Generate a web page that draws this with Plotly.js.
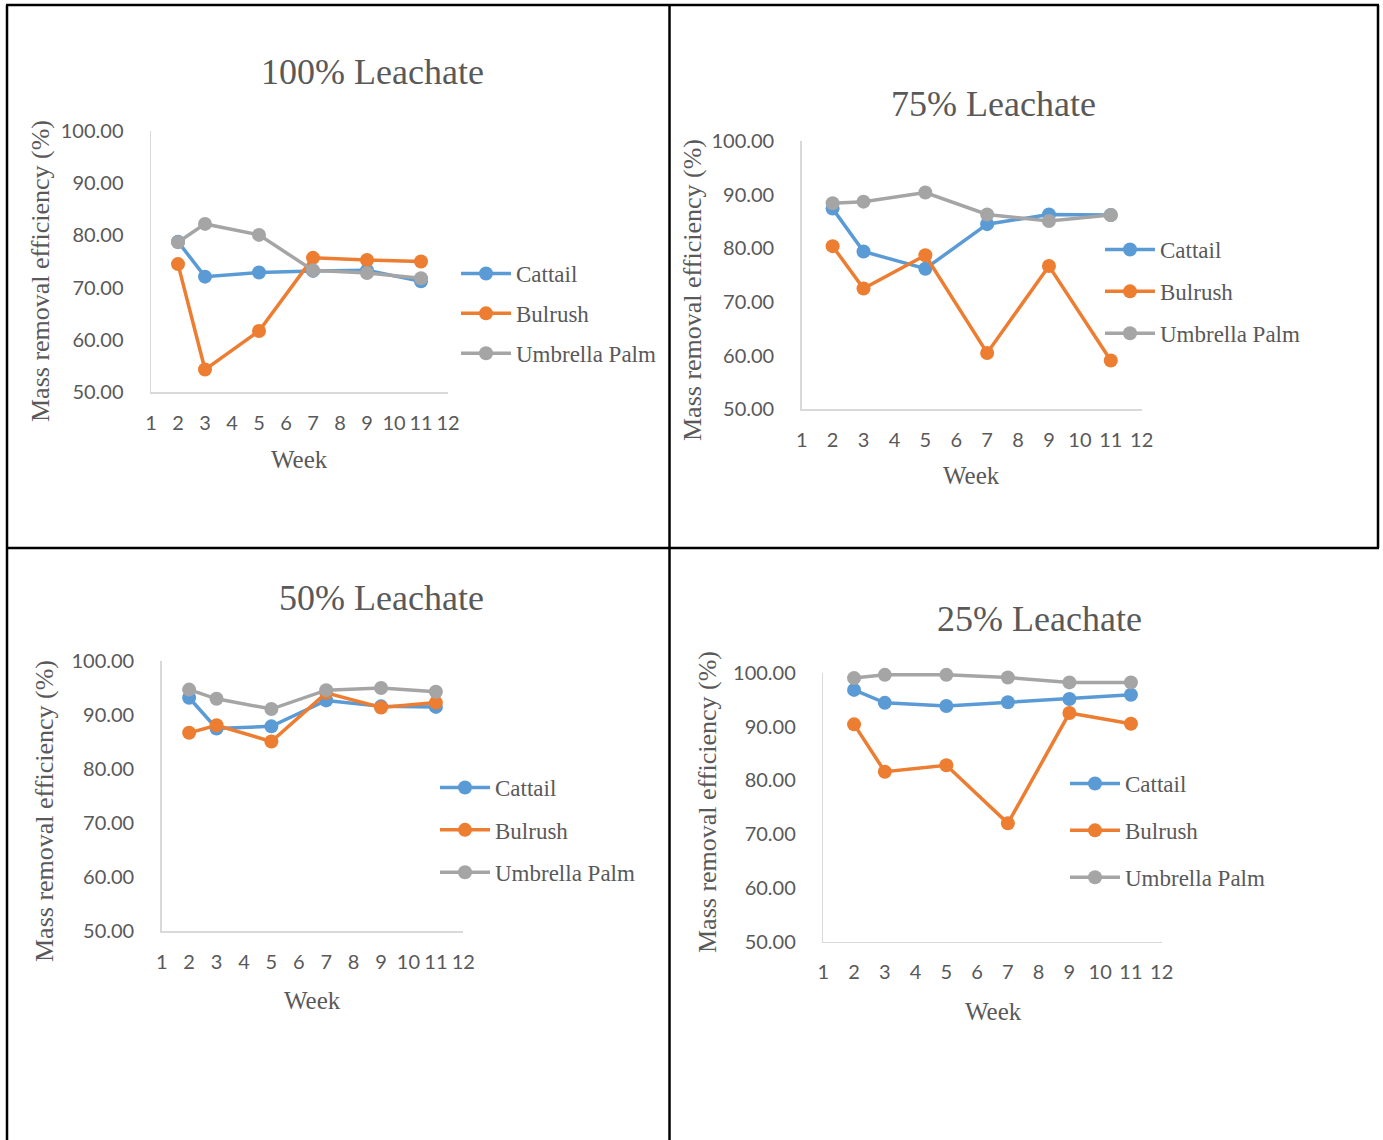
<!DOCTYPE html>
<html>
<head>
<meta charset="utf-8">
<script src="https://cdn.plot.ly/plotly-3.0.1.min.js"></script>
<style>html,body{margin:0;padding:0;background:#fff;}#chart{width:1383px;height:1140px;}</style>
</head>
<body>
<div id="chart"></div>
<script>
// ---- data ----
const weeks = [2, 3, 5, 7, 9, 11];
const seriesNames = ["Cattail", "Bulrush", "Umbrella Palm"];
const seriesColors = ["#5B9BD5", "#ED7D31", "#A5A5A5"];
const xTickVals = [1, 2, 3, 4, 5, 6, 7, 8, 9, 10, 11, 12];
const xTickText = ["1", "2", "3", "4", "5", "6", "7", "8", "9", "10", "11", "12"];
const yTickVals = [50, 60, 70, 80, 90, 100];
const panelTitles = ["100% Leachate", "75% Leachate", "50% Leachate", "25% Leachate"];
const yTitle = "Mass removal efficiency (%)";
const xTitle = "Week";

const cattail100 = [78.8, 72.1, 72.9, 73.2, 73.3, 71.2];
const bulrush100 = [74.5, 54.3, 61.7, 75.7, 75.3, 75.0];
const umbrella100 = [78.7, 82.2, 80.1, 73.3, 72.8, 71.8];

const cattail75 = [87.4, 79.4, 76.2, 84.5, 86.3, 86.2];
const bulrush75 = [80.4, 72.5, 78.7, 60.5, 76.7, 59.1];
const umbrella75 = [88.4, 88.7, 90.4, 86.3, 85.1, 86.2];

const cattail50 = [93.2, 87.5, 87.9, 92.7, 91.6, 91.5];
const bulrush50 = [86.7, 88.1, 85.1, 94.1, 91.4, 92.3];
const umbrella50 = [94.7, 93.0, 91.1, 94.6, 95.0, 94.3];

const cattail25 = [96.8, 94.4, 93.8, 94.5, 95.1, 95.9];
const bulrush25 = [90.4, 81.6, 82.8, 72.0, 92.5, 90.5];
const umbrella25 = [99.0, 99.6, 99.6, 99.1, 98.2, 98.2];

const panelData = [
  [cattail100, bulrush100, umbrella100],
  [cattail75, bulrush75, umbrella75],
  [cattail50, bulrush50, umbrella50],
  [cattail25, bulrush25, umbrella25]
];

// ---- layout helpers ----
const W = 1383, H = 1140;
const px = x => x / W;
const py = y => 1 - y / H;

// plot areas in pixels: [left, right, top, bottom]
const areas = [
  [151, 448, 131, 392],
  [801.7, 1141.7, 141, 409.3],
  [161.7, 463.3, 661, 931],
  [823.3, 1161.7, 672.7, 941.7]
];
const titlePos = [[372, 72], [993, 104], [381, 598], [1039, 619]];
const yTitlePos = [[41, 271], [692, 290], [44, 811], [707, 802]];
const xTitlePos = [[299, 460], [971, 475], [312, 1000], [993, 1011]];
const legendPos = [[456, 252, 7], [1100, 228, 9], [435, 766, 9.5], [1065, 762, 14]];

const gray = "#595959";
const serif = "Liberation Serif, Times New Roman, serif";
const sans = "Lato, Open Sans, sans-serif";

const traces = [];
const layout = {
  width: W, height: H,
  margin: {l: 0, r: 0, t: 0, b: 0},
  paper_bgcolor: "#fff", plot_bgcolor: "#fff",
  showlegend: true,
  annotations: [], shapes: []
};

panelData.forEach((series, p) => {
  const sfx = p === 0 ? "" : String(p + 1);
  const lg = p === 0 ? "legend" : "legend" + (p + 1);
  series.forEach((vals, i) => {
    traces.push({
      x: weeks, y: vals, type: "scatter", mode: "lines+markers",
      name: seriesNames[i],
      xaxis: "x" + sfx, yaxis: "y" + sfx,
      legend: lg, legendgroup: "p" + p + "s" + i,
      line: {color: seriesColors[i], width: 3.5},
      marker: {color: seriesColors[i], size: 14},
      cliponaxis: false
    });
  });
  const a = areas[p];
  layout["xaxis" + sfx] = {
    domain: [px(a[0]), px(a[1])], anchor: "y" + sfx,
    range: [1, 12], tickvals: xTickVals, ticktext: xTickText,
    showgrid: false, zeroline: false, showline: true,
    linecolor: "#D9D9D9", linewidth: 1.5,
    ticks: "outside", ticklen: 12, tickcolor: "rgba(0,0,0,0)",
    tickfont: {family: sans, size: 20, color: gray},
    fixedrange: true
  };
  layout["yaxis" + sfx] = {
    domain: [py(a[3]), py(a[2])], anchor: "x" + sfx,
    range: [50, 100], tickvals: yTickVals, tickformat: ".2f",
    showgrid: false, zeroline: false, showline: true,
    linecolor: "#D9D9D9", linewidth: 1.5,
    ticks: "outside", ticklen: 22, tickcolor: "rgba(0,0,0,0)",
    tickfont: {family: sans, size: 20, color: gray},
    fixedrange: true
  };
  const L = legendPos[p];
  layout[lg] = {
    x: px(L[0]), y: py(L[1]), xanchor: "left", yanchor: "top",
    font: {family: serif, size: 23, color: gray},
    bgcolor: "rgba(0,0,0,0)", borderwidth: 0,
    traceorder: "grouped", tracegroupgap: L[2],
    itemwidth: 50
  };
  layout.annotations.push({
    text: panelTitles[p], xref: "paper", yref: "paper",
    x: px(titlePos[p][0]), y: py(titlePos[p][1]), xanchor: "center", yanchor: "middle",
    showarrow: false, font: {family: serif, size: 36, color: gray}
  });
  layout.annotations.push({
    text: yTitle, xref: "paper", yref: "paper", textangle: -90,
    x: px(yTitlePos[p][0]), y: py(yTitlePos[p][1]), xanchor: "center", yanchor: "middle",
    showarrow: false, font: {family: serif, size: 26, color: gray}
  });
  layout.annotations.push({
    text: xTitle, xref: "paper", yref: "paper",
    x: px(xTitlePos[p][0]), y: py(xTitlePos[p][1]), xanchor: "center", yanchor: "middle",
    showarrow: false, font: {family: serif, size: 25, color: gray}
  });
});

// table borders
const border = (x0, y0, x1, y1) => ({
  type: "line", xref: "paper", yref: "paper",
  x0: px(x0), y0: py(y0), x1: px(x1), y1: py(y1),
  line: {color: "#000", width: 2.5}, layer: "above"
});
layout.shapes.push(border(6, 5, 1379, 5));
layout.shapes.push(border(6, 548, 1379, 548));
layout.shapes.push(border(7, 5, 7, 1140));
layout.shapes.push(border(669.5, 5, 669.5, 1140));
layout.shapes.push(border(1378, 5, 1378, 548));

Plotly.newPlot("chart", traces, layout, {displayModeBar: false, staticPlot: true});
</script>
</body>
</html>
